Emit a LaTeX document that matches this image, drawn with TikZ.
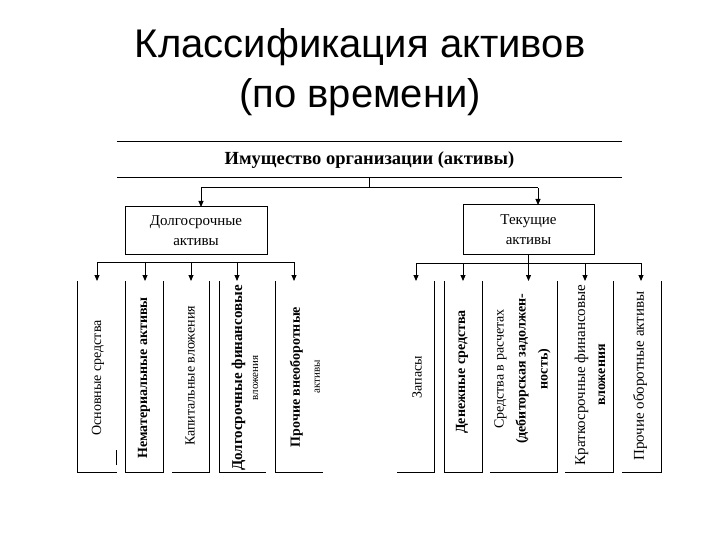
\documentclass[tikz,border=0pt]{standalone}
\usepackage{fontspec}
\setmainfont{Liberation Serif}
\newfontfamily\titlefont{Liberation Sans}
\usetikzlibrary{arrows.meta}
\begin{document}
\begin{tikzpicture}[x=1pt,y=-1pt,
  line/.style={line width=1pt},
  arr/.style={line width=0.9pt,-{Triangle[length=6pt,width=5pt]}},
  frame/.style={inner sep=0pt,outer sep=0pt},
  midbox/.style={draw,line width=1pt,inner sep=0pt,outer sep=0pt,align=center,font=\fontsize{15}{20}\selectfont},
  leafbox/.style={inner sep=0pt,outer sep=0pt,minimum height=191pt},
  vtext/.style={rotate=90,align=center,inner sep=0pt},
  nrm/.style={font=\fontsize{14}{20}\selectfont},
  bld/.style={font=\bfseries\fontsize{14}{20}\selectfont},
]
\useasboundingbox (0,0) rectangle (720,540);

% title
\node[font=\titlefont\fontsize{40}{50}\selectfont, align=center] (title) at (360,72) {Классификация активов\\(по времени)};

% root
\node[frame, minimum width=505pt, minimum height=36pt, font=\bfseries\fontsize{18.5}{20}\selectfont] (root) at (369.5,160) {Имущество организации (активы)};
\draw[line] (root.north west) -- (root.north east);
\draw[line] (root.south west) -- (root.south east);

% middle boxes
\node[midbox, minimum width=142pt, minimum height=47pt] (long) at (196,230.5) {Долгосрочные\\активы};
\node[midbox, minimum width=131pt, minimum height=49pt] (cur) at (528.5,229.5) {Текущие\\активы};

\coordinate (j) at (369.5,188);
\coordinate (jl) at (201,188);
\coordinate (jr) at (538,188);
\draw[line] (root.south) -- (j);
\draw[line] (jl) -- (jr);
\draw[arr] (jl) -- (jl |- long.north);
\draw[arr] (jr) -- (jr |- cur.north);

% leaf frames (left)
\node[leafbox, minimum width=40pt] (L1) at (97,376.5) {};
\node[leafbox, minimum width=38pt] (L2) at (144,376.5) {};
\node[leafbox, minimum width=37pt] (L3) at (190.5,376.5) {};
\node[leafbox, minimum width=47pt] (L4) at (242.5,376.5) {};
\node[leafbox, minimum width=48pt] (L5) at (299,376.5) {};
\draw[line] (L1.north west) -- (L1.south west) -- (L1.south east);
\draw[line] (L1.south east) ++(-1,-7) -- ++(0,-15);
\draw[line] (L2.north west) -- (L2.south west) -- (L2.south east) -- (L2.north east);
\draw[line] (L3.south west) -- (L3.south east) -- (L3.north east);
\draw[line] (L4.north west) -- (L4.south west) -- (L4.south east);
\draw[line] (L5.north west) -- (L5.south west) -- (L5.south east);

% leaf frames (right)
\node[leafbox, minimum width=37pt] (R1) at (415.5,376.5) {};
\node[leafbox, minimum width=38pt] (R2) at (463,376.5) {};
\node[leafbox, minimum width=67pt] (R3) at (523.5,376.5) {};
\node[leafbox, minimum width=48pt] (R4) at (589,376.5) {};
\node[leafbox, minimum width=39pt] (R5) at (641.5,376.5) {};
\draw[line] (R1.south west) -- (R1.south east) -- (R1.north east);
\draw[line] (R2.north west) -- (R2.south west) -- (R2.south east) -- (R2.north east);
\draw[line] (R3.south west) -- (R3.south east) -- (R3.north east);
\draw[line] (R4.south west) -- (R4.south east) -- (R4.north east);
\draw[line] (R5.south west) -- (R5.south east) -- (R5.north east);

% left bus and arrows
\coordinate (a1) at (97,262);
\coordinate (a2) at (145,262);
\coordinate (a3) at (191,262);
\coordinate (a4) at (237,262);
\coordinate (a5) at (294,262);
\draw[line] (a1) -- (a5);
\draw[arr] (a1) -- (a1 |- L1.north);
\draw[arr] (a2) -- (a2 |- L2.north);
\draw[arr] (a3) -- (a3 |- L3.north);
\draw[arr] (a4) -- (a4 |- L4.north);
\draw[arr] (a5) -- (a5 |- L5.north);

% right bus and arrows
\coordinate (b1) at (416,263);
\coordinate (b2) at (463,263);
\coordinate (b3) at (528.5,263);
\coordinate (b4) at (585,263);
\coordinate (b5) at (641,263);
\draw[line] (cur.south) -- (b3);
\draw[line] (b1) -- (b5);
\draw[arr] (b1) -- (b1 |- R1.north);
\draw[arr] (b2) -- (b2 |- R2.north);
\draw[arr] (b3) -- (b3 |- R3.north);
\draw[arr] (b4) -- (b4 |- R4.north);
\draw[arr] (b5) -- (b5 |- R5.north);

% leaf texts (left)
\node[vtext, nrm] (tL1) at (98,378) {Основные средства};
\node[vtext, bld] (tL2) at (144,378) {Нематериальные активы};
\node[vtext, nrm] (tL3) at (190,376) {Капитальные вложения};
\node[vtext, font=\fontsize{15}{16}\selectfont] (tL4) at (245,378) {{\bfseries Долгосрочные финансовые}\\{\fontsize{11}{16}\selectfont вложения}};
\node[vtext, font=\fontsize{14}{20}\selectfont] (tL5) at (305,377) {{\bfseries Прочие внеоборотные}\\{\fontsize{11}{20}\selectfont активы}};

% leaf texts (right)
\node[vtext, nrm] (tR1) at (417,377) {Запасы};
\node[vtext, bld] (tR2) at (462,372) {Денежные средства};
\node[vtext, font=\fontsize{14}{22}\selectfont] (tR3) at (522.5,369) {Средства в расчетах\\{\bfseries (дебиторская задолжен-}\\{\bfseries ность)}};
\node[vtext, font=\fontsize{15}{20}\selectfont] (tR4) at (590,375) {Краткосрочные финансовые\\{\bfseries\fontsize{14}{20}\selectfont вложения}};
\node[vtext, font=\fontsize{15}{20}\selectfont] (tR5) at (640,376) {Прочие оборотные активы};
\end{tikzpicture}
\end{document}
